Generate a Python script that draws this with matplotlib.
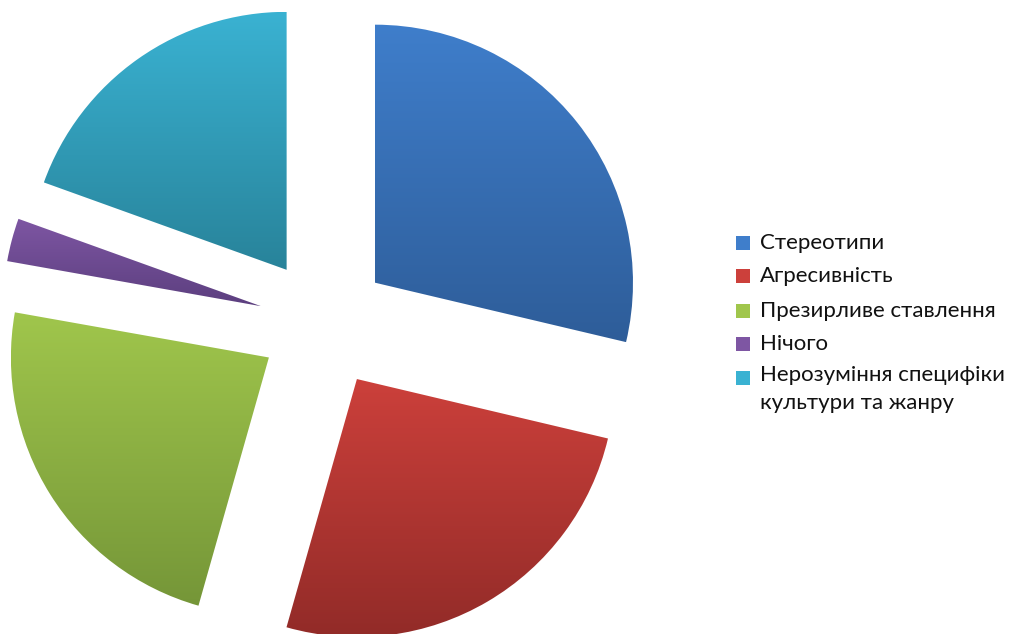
import matplotlib.pyplot as plt
import numpy as np
from matplotlib.colors import LinearSegmentedColormap
from matplotlib.patches import Rectangle

labels = ["Стереотипи", "Агресивність", "Презирливе ставлення", "Нічого",
          "Нерозуміння специфіки\nкультури та жанру"]
values = [28.7, 25.7, 23.4, 2.7, 19.5]

# top / bottom shades of each slice
tops = ["#3f7ecb", "#cc403b", "#a0c64c", "#7e56a3", "#3ab2d2"]
bottoms = ["#2e5d99", "#922b28", "#759638", "#5c3f7f", "#28839a"]

fig = plt.figure(figsize=(10.14, 6.34), dpi=100)
ax = fig.add_axes([0, 0, 1, 1])

wedges, _ = ax.pie(values, startangle=90, counterclock=False,
                   center=(324, 311), radius=258, explode=[65] * 5,
                   wedgeprops=dict(linewidth=0))

grad = np.linspace(0, 1, 256).reshape(-1, 1)
for w, c1, c2 in zip(wedges, tops, bottoms):
    w.set_facecolor("none")
    bb = w.get_path().get_extents(w.get_patch_transform())
    cmap = LinearSegmentedColormap.from_list("g", [c2, c1])
    im = ax.imshow(grad, cmap=cmap, origin="lower", aspect="auto",
                   extent=[bb.x0, bb.x1, bb.y0, bb.y1], zorder=1)
    im.set_clip_path(w)

ax.set_xlim(0, 1014)
ax.set_ylim(0, 634)
ax.axis("off")

# legend
ys = [243, 276, 311, 344, 378]
for y, lab, c1 in zip(ys, labels, tops):
    yy = 634 - y
    ax.add_patch(Rectangle((736, yy - 7), 14, 14, facecolor=c1, edgecolor="none"))
    if "\n" in lab:
        yy += 13
    ax.text(760, yy, lab, fontsize=16, family="Lato", va="center" if "\n" not in lab else "top",
            color="#111111", linespacing=1.5)

fig.savefig("out.png", dpi=100)
plt.close()
